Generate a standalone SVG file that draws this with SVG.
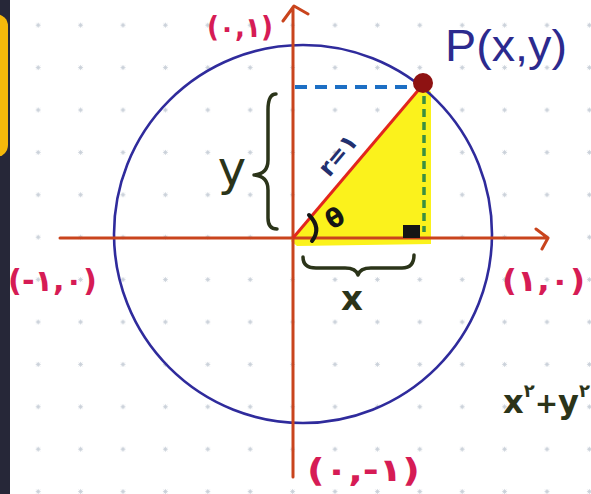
<svg xmlns="http://www.w3.org/2000/svg" width="591" height="494" viewBox="0 0 591 494">
<defs>
<pattern id="grid" patternUnits="userSpaceOnUse" x="17" y="4" width="42.4" height="42.4">
<path d="M18.7 21.2h5M21.2 18.7v5M19.4 19.4l3.6 3.6M23 19.4l-3.6 3.6" stroke="#c5ccd5" stroke-width="0.8" fill="none"/>
</pattern>
<style>
.axis{stroke:#c9441d;stroke-width:3;fill:none;stroke-linecap:round;stroke-linejoin:round}
.lbl{font-family:"DejaVu Sans","Noto Sans",sans-serif;font-weight:bold;fill:#d61c55}
.ink{fill:#2b3419;font-family:"DejaVu Sans","Liberation Sans",sans-serif}
.brace{stroke:#2b3419;stroke-width:3.5;fill:none;stroke-linecap:round;stroke-linejoin:round}
</style>
</defs>
<rect x="0" y="0" width="591" height="494" fill="#ffffff"/>
<rect x="10" y="0" width="581" height="494" fill="url(#grid)"/>
<rect x="0" y="0" width="10" height="494" fill="#262738"/>
<rect x="-20" y="14" width="28" height="143" rx="12" fill="#f5b90b"/>

<g id="triangle">
<polygon points="291,241 424,84 431,92 431,244 297,246" fill="#fbf21c"/>
</g>

<g id="circle">
<ellipse cx="303" cy="234" rx="189" ry="189" fill="none" stroke="#2f2b9c" stroke-width="2.6"/>
</g>

<g id="connectors">
<path class="axis" d="M60 238H547M536 229L548 238L542 249"/>
<path class="axis" d="M293 477V7M283 21L294 6L308 14"/>
<line x1="293" y1="238" x2="421" y2="87" stroke="#e2261d" stroke-width="3"/>
<line x1="295" y1="87" x2="418" y2="87" stroke="#1d6fc4" stroke-width="4" stroke-dasharray="12 8"/>
<line x1="424" y1="96" x2="424" y2="232" stroke="#3b8f40" stroke-width="3.5" stroke-dasharray="8 5"/>
</g>

<g id="right-angle">
<rect x="403" y="225" width="17" height="13" fill="#151515"/>
</g>

<g id="angle">
<path d="M309 215Q322 228 312 241" stroke="#151515" stroke-width="4" fill="none" stroke-linecap="round"/>
<text x="335" y="227" transform="rotate(-30 335 218)" text-anchor="middle" font-family="DejaVu Sans, sans-serif" font-weight="bold" font-size="26" fill="#151515">θ</text>
</g>

<g id="point-P">
<circle cx="423" cy="83" r="10" fill="#8e1212"/>
<text x="445" y="61" font-family="Liberation Sans, sans-serif" font-size="44" fill="#2c2a8e" textLength="122" lengthAdjust="spacingAndGlyphs">P(x,y)</text>
</g>

<g id="radius-label">
<text x="338" y="163" transform="rotate(-50 338 155)" text-anchor="middle" font-family="DejaVu Sans, sans-serif" font-weight="bold" font-size="24" fill="#23306f">r=۱</text>
</g>

<g id="y-label">
<path class="brace" d="M276 94Q268 94 268 110V160Q268 174 254 175Q268 176 268 190V218Q268 229 277 229"/>
<text class="ink" x="232" y="185" text-anchor="middle" font-size="48">y</text>
</g>

<g id="x-label">
<path class="brace" d="M303 257Q303 268 316 268H345Q356 268 358 275Q360 268 371 268H402Q414 268 414 255"/>
<text class="ink" x="352" y="310" text-anchor="middle" font-size="34" font-weight="bold">x</text>
</g>

<g id="label-top">
<text class="lbl" x="207" y="37" font-size="28" textLength="66" lengthAdjust="spacingAndGlyphs">(۰,۱)</text>
</g>
<g id="label-left">
<text class="lbl" x="8" y="291" font-size="30" textLength="89" lengthAdjust="spacingAndGlyphs">(-۱,۰)</text>
</g>
<g id="label-right">
<text class="lbl" x="502" y="291" font-size="30" textLength="83" lengthAdjust="spacingAndGlyphs">(۱,۰)</text>
</g>
<g id="label-bottom">
<text class="lbl" x="307" y="481" font-size="32" textLength="113" lengthAdjust="spacingAndGlyphs">(۰,-۱)</text>
</g>

<g id="equation">
<text class="ink" x="503" y="413" font-size="32" font-weight="bold">x<tspan font-size="18" dy="-16">۲</tspan><tspan font-size="28" dy="16">+</tspan>y<tspan font-size="18" dy="-16">۲</tspan></text>
</g>
</svg>
